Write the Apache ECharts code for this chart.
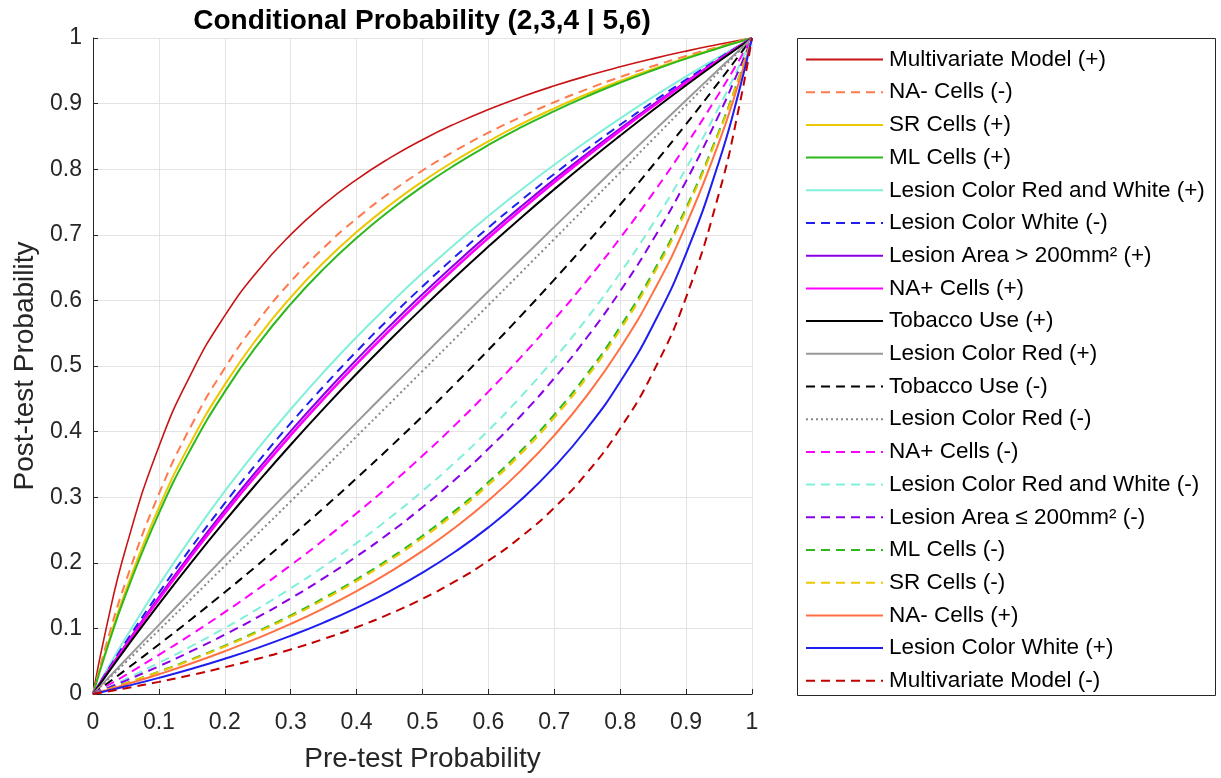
<!DOCTYPE html>
<html>
<head>
<meta charset="utf-8">
<title>Conditional Probability</title>
<script src="https://cdn.jsdelivr.net/npm/echarts@6/dist/echarts.min.js"></script>
<style>
  html, body { margin: 0; padding: 0; background: #fff; }
  #chart { width: 1221px; height: 778px; }
</style>
</head>
<body>
<div id="chart"></div>
<script>
// pre-test probability sample points (x)
const preTest = [0, 0.02, 0.05, 0.1, 0.15, 0.2, 0.25, 0.3, 0.35, 0.4, 0.45, 0.5, 0.55, 0.6, 0.65, 0.7, 0.75, 0.8, 0.85, 0.9, 0.95, 0.98, 1];

// post-test probability, one array per curve
const multivariatePos = [0, 0.1001, 0.2229, 0.3772, 0.4903, 0.5767, 0.6450, 0.7002, 0.7459, 0.7842, 0.8168, 0.8450, 0.8695, 0.8910, 0.9101, 0.9271, 0.9424, 0.9561, 0.9686, 0.9800, 0.9904, 0.9963, 1];
const naMinusNeg      = [0, 0.0746, 0.1721, 0.3050, 0.4108, 0.4969, 0.5683, 0.6286, 0.6802, 0.7248, 0.7637, 0.7980, 0.8284, 0.8556, 0.8800, 0.9021, 0.9222, 0.9405, 0.9572, 0.9726, 0.9869, 0.9949, 1];
const srPos           = [0, 0.0679, 0.1582, 0.2840, 0.3865, 0.4716, 0.5434, 0.6047, 0.6578, 0.7041, 0.7450, 0.7812, 0.8135, 0.8426, 0.8689, 0.8928, 0.9146, 0.9346, 0.9529, 0.9698, 0.9855, 0.9943, 1];
const mlPos           = [0, 0.0652, 0.1525, 0.2754, 0.3764, 0.4609, 0.5327, 0.5944, 0.6481, 0.6951, 0.7367, 0.7738, 0.8069, 0.8369, 0.8640, 0.8886, 0.9112, 0.9319, 0.9509, 0.9685, 0.9848, 0.9941, 1];
const redWhitePos     = [0, 0.0352, 0.0861, 0.1659, 0.2400, 0.3092, 0.3737, 0.4341, 0.4908, 0.5441, 0.5942, 0.6416, 0.6863, 0.7286, 0.7687, 0.8068, 0.8430, 0.8775, 0.9103, 0.9416, 0.9714, 0.9887, 1];
const whiteNeg        = [0, 0.0324, 0.0795, 0.1541, 0.2245, 0.2908, 0.3534, 0.4128, 0.4690, 0.5223, 0.5730, 0.6212, 0.6672, 0.7110, 0.7528, 0.7928, 0.8311, 0.8677, 0.9029, 0.9365, 0.9689, 0.9877, 1];
const areaBigPos      = [0, 0.0309, 0.0759, 0.1477, 0.2159, 0.2806, 0.3421, 0.4007, 0.4565, 0.5098, 0.5607, 0.6094, 0.6560, 0.7006, 0.7434, 0.7845, 0.8239, 0.8619, 0.8984, 0.9335, 0.9674, 0.9871, 1];
const naPlusPos       = [0, 0.0301, 0.0741, 0.1445, 0.2115, 0.2754, 0.3363, 0.3945, 0.4501, 0.5033, 0.5543, 0.6032, 0.6501, 0.6951, 0.7384, 0.7801, 0.8201, 0.8588, 0.8960, 0.9319, 0.9665, 0.9868, 1];
const tobaccoPos      = [0, 0.0284, 0.0700, 0.1371, 0.2015, 0.2634, 0.3228, 0.3800, 0.4350, 0.4881, 0.5392, 0.5885, 0.6361, 0.6820, 0.7265, 0.7694, 0.8110, 0.8512, 0.8902, 0.9279, 0.9645, 0.9859, 1];
const redPos          = [0, 0.0212, 0.0528, 0.1054, 0.1576, 0.2095, 0.2611, 0.3124, 0.3634, 0.4141, 0.4645, 0.5146, 0.5644, 0.6139, 0.6631, 0.7121, 0.7608, 0.8092, 0.8573, 0.9051, 0.9527, 0.9811, 1];
const tobaccoNeg      = [0, 0.0148, 0.0372, 0.0755, 0.1148, 0.1552, 0.1968, 0.2395, 0.2835, 0.3289, 0.3755, 0.4236, 0.4732, 0.5244, 0.5772, 0.6317, 0.6880, 0.7462, 0.8064, 0.8687, 0.9332, 0.9730, 1];
const redNeg          = [0, 0.0194, 0.0486, 0.0973, 0.1461, 0.1952, 0.2443, 0.2936, 0.3431, 0.3927, 0.4425, 0.4924, 0.5424, 0.5927, 0.6430, 0.6936, 0.7442, 0.7951, 0.8461, 0.8972, 0.9485, 0.9794, 1];
const naPlusNeg       = [0, 0.0115, 0.0291, 0.0596, 0.0914, 0.1247, 0.1597, 0.1963, 0.2348, 0.2754, 0.3180, 0.3631, 0.4106, 0.4609, 0.5142, 0.5708, 0.6310, 0.6951, 0.7636, 0.8369, 0.9155, 0.9654, 1];
const redWhiteNeg     = [0, 0.0091, 0.0230, 0.0474, 0.0733, 0.1007, 0.1299, 0.1611, 0.1943, 0.2300, 0.2682, 0.3094, 0.3538, 0.4019, 0.4541, 0.5111, 0.5734, 0.6418, 0.7174, 0.8013, 0.8949, 0.9564, 1];
const areaSmallNeg    = [0, 0.0081, 0.0205, 0.0423, 0.0656, 0.0905, 0.1171, 0.1457, 0.1765, 0.2097, 0.2456, 0.2847, 0.3272, 0.3738, 0.4250, 0.4815, 0.5442, 0.6142, 0.6928, 0.7818, 0.8832, 0.9512, 1];
const mlNeg           = [0, 0.0064, 0.0165, 0.0341, 0.0531, 0.0736, 0.0958, 0.1199, 0.1462, 0.1749, 0.2065, 0.2413, 0.2799, 0.3230, 0.3713, 0.4260, 0.4882, 0.5599, 0.6431, 0.7411, 0.8580, 0.9397, 1];
const srNeg           = [0, 0.0063, 0.0162, 0.0335, 0.0522, 0.0724, 0.0942, 0.1179, 0.1438, 0.1722, 0.2034, 0.2378, 0.2761, 0.3188, 0.3669, 0.4213, 0.4835, 0.5552, 0.6387, 0.7374, 0.8557, 0.9386, 1];
const naMinusPos      = [0, 0.0057, 0.0145, 0.0301, 0.0469, 0.0652, 0.0851, 0.1068, 0.1306, 0.1568, 0.1858, 0.2181, 0.2543, 0.2950, 0.3413, 0.3943, 0.4556, 0.5274, 0.6126, 0.7152, 0.8413, 0.9318, 1];
const whitePos        = [0, 0.0046, 0.0118, 0.0246, 0.0385, 0.0537, 0.0703, 0.0887, 0.1089, 0.1314, 0.1566, 0.1850, 0.2172, 0.2540, 0.2966, 0.3463, 0.4051, 0.4759, 0.5626, 0.6714, 0.8118, 0.9175, 1];
const multivariateNeg = [0, 0.0035, 0.0089, 0.0185, 0.0291, 0.0408, 0.0536, 0.0679, 0.0839, 0.1018, 0.1221, 0.1453, 0.1720, 0.2032, 0.2400, 0.2840, 0.3377, 0.4048, 0.4907, 0.6047, 0.7636, 0.8928, 1];

const FONT = 'Liberation Sans, Arial, Helvetica, sans-serif';
const DASH = [9, 6];

// name, values, colour, width, dash
const curves = [
  ['Multivariate Model (+)', multivariatePos, '#C81414', 1.6, 'solid'],
  ['NA- Cells (-)', naMinusNeg, '#FF7A4D', 2, DASH],
  ['SR Cells (+)', srPos, '#EBC800', 2, 'solid'],
  ['ML Cells (+)', mlPos, '#2DB81E', 2, 'solid'],
  ['Lesion Color Red and White (+)', redWhitePos, '#80F0DA', 2, 'solid'],
  ['Lesion Color White (-)', whiteNeg, '#1E1EF0', 2, DASH],
  ['Lesion Area > 200mm² (+)', areaBigPos, '#8A00E6', 2, 'solid'],
  ['NA+ Cells (+)', naPlusPos, '#FF00FF', 2.6, 'solid'],
  ['Tobacco Use (+)', tobaccoPos, '#000000', 2, 'solid'],
  ['Lesion Color Red (+)', redPos, '#999999', 2, 'solid'],
  ['Tobacco Use (-)', tobaccoNeg, '#000000', 2, DASH],
  ['Lesion Color Red (-)', redNeg, '#888888', 2, [2, 3]],
  ['NA+ Cells (-)', naPlusNeg, '#FF00FF', 2, DASH],
  ['Lesion Color Red and White (-)', redWhiteNeg, '#80F0DA', 2, DASH],
  ['Lesion Area ≤ 200mm² (-)', areaSmallNeg, '#8A00E6', 2, DASH],
  ['ML Cells (-)', mlNeg, '#2DB81E', 2, DASH],
  ['SR Cells (-)', srNeg, '#EBC800', 2, DASH],
  ['NA- Cells (+)', naMinusPos, '#FF7043', 2, 'solid'],
  ['Lesion Color White (+)', whitePos, '#1E1EF0', 2, 'solid'],
  ['Multivariate Model (-)', multivariateNeg, '#C00000', 2, DASH]
];

const series = curves.map(function (c) {
  return {
    name: c[0],
    type: 'line',
    data: preTest.map(function (x, i) { return [x, c[1][i]]; }),
    smooth: true,
    symbol: 'none',
    color: c[2],
    lineStyle: { color: c[2], width: c[3], type: c[4] }
  };
});

const axisCommon = {
  type: 'value',
  min: 0,
  max: 1,
  interval: 0.1,
  axisLine: { show: true, lineStyle: { color: '#262626', width: 1 } },
  axisTick: { show: true, inside: true, length: 5, lineStyle: { color: '#262626' } },
  axisLabel: { color: '#262626', fontSize: 23, fontFamily: FONT },
  splitLine: { show: true, lineStyle: { color: '#e3e3e3', width: 1 } },
  nameLocation: 'middle',
  nameTextStyle: { color: '#262626', fontSize: 28, fontFamily: FONT }
};

const chart = echarts.init(document.getElementById('chart'));
chart.setOption({
  animation: false,
  backgroundColor: '#ffffff',
  grid: { left: 93, top: 38, right: 469, bottom: 83, containLabel: false },
  xAxis: Object.assign({}, axisCommon, {
    name: 'Pre-test Probability',
    nameGap: 51,
    axisLabel: Object.assign({}, axisCommon.axisLabel, { margin: 17 })
  }),
  yAxis: Object.assign({}, axisCommon, {
    name: 'Post-test Probability',
    nameGap: 51,
    axisLabel: Object.assign({}, axisCommon.axisLabel, { margin: 11 })
  }),
  legend: {
    orient: 'vertical',
    left: 805,
    top: 48,
    padding: 0,
    itemWidth: 77,
    itemHeight: 22,
    itemGap: 9.7,
    selectedMode: false,
    itemStyle: { opacity: 0, borderWidth: 0 },
    textStyle: { color: '#000', fontSize: 22.5, fontFamily: FONT, lineHeight: 22, padding: [0, 0, 0, 1] },
    data: curves.map(function (c) { return c[0]; })
  },
  graphic: [
    {
      type: 'rect',
      shape: { x: 797.5, y: 38.5, width: 418, height: 657 },
      style: { fill: 'none', stroke: '#262626', lineWidth: 1 },
      silent: true
    },
    {
      type: 'text',
      x: 422,
      y: 21,
      style: {
        text: 'Conditional Probability (2,3,4 | 5,6)',
        fill: '#000',
        font: 'bold 28px ' + FONT,
        align: 'center',
        verticalAlign: 'middle'
      }
    }
  ],
  series: series
});
</script>
</body>
</html>
